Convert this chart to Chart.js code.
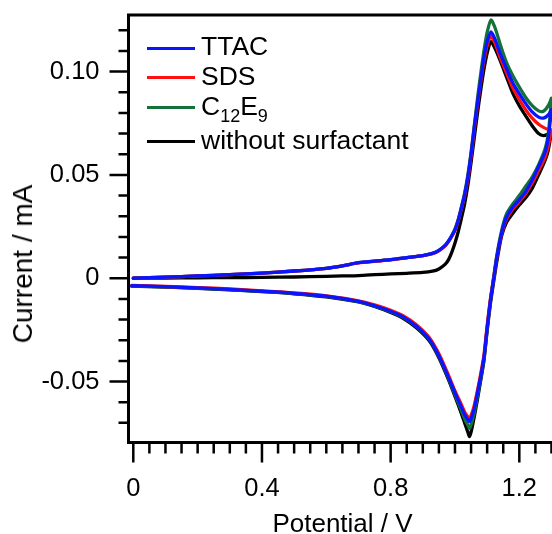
<!DOCTYPE html>
<html>
<head>
<meta charset="utf-8">
<script src="https://cdn.jsdelivr.net/npm/chart.js@4.4.1/dist/chart.umd.min.js"></script>
<style>
  html, body { margin: 0; padding: 0; background: #fff; }
  #wrap { position: relative; width: 552px; height: 534px; overflow: hidden; font-family: "Liberation Sans", Arial, sans-serif; color: #000; }
  #c { position: absolute; left: 0; top: 0; }
  .txt { position: absolute; line-height: 1; white-space: nowrap; }
  #xt { font-size: 26px; left: 342.5px; top: 523px; transform: translate(-50%, -50%); }
  #yt { font-size: 28px; left: 23.3px; top: 264px; transform: translate(-50%, -50%) rotate(-90deg); }
  .lg-line { position: absolute; height: 2.5px; left: 147px; width: 48px; }
  .lg-text { position: absolute; left: 201px; font-size: 26.5px; line-height: 1; white-space: nowrap; }
  .sub { font-size: 18px; position: relative; top: 7px; }
</style>
</head>
<body>
<div id="wrap">
  <canvas id="c" width="552" height="534"></canvas>
  <div class="txt" id="xt">Potential / V</div>
  <div class="txt" id="yt">Current / mA</div>
  <div id="legend"></div>
</div>
<script>
// ---------- data ----------
const seriesNames = ['TTAC', 'SDS', 'C<span class="sub">12</span>E<span class="sub">9</span>', 'without surfactant'];
const seriesColors = ['#0a14ff', '#ff1010', '#137239', '#000000'];

// forward (anodic) scan potentials, V
const fwdV = [0, 0.1, 0.2, 0.3, 0.4, 0.5, 0.6, 0.65, 0.7, 0.75, 0.8, 0.85, 0.9, 0.93, 0.95, 0.97, 0.98, 0.99, 1.00, 1.01, 1.02, 1.03, 1.04, 1.05, 1.06, 1.07, 1.08, 1.09, 1.10, 1.112, 1.125, 1.14, 1.16, 1.18, 1.20, 1.22, 1.24, 1.26, 1.275, 1.29, 1.30];
// forward scan currents, mA
const ttacFwd = [0, 0.0005, 0.0011, 0.0017, 0.0025, 0.0035, 0.0048, 0.0060, 0.0075, 0.0083, 0.0090, 0.0100, 0.0110, 0.0120, 0.0135, 0.0160, 0.0180, 0.0205, 0.0235, 0.0280, 0.0340, 0.0405, 0.0490, 0.0600, 0.0730, 0.0850, 0.0960, 0.1070, 0.1145, 0.1192, 0.1155, 0.1090, 0.1015, 0.0945, 0.0893, 0.0845, 0.0805, 0.0780, 0.0775, 0.0790, 0.0815];
const sdsFwd = [0, 0.0005, 0.0011, 0.0017, 0.0025, 0.0035, 0.0048, 0.0060, 0.0074, 0.0082, 0.0089, 0.0099, 0.0109, 0.0119, 0.0133, 0.0157, 0.0177, 0.0202, 0.0232, 0.0276, 0.0335, 0.0398, 0.0480, 0.0590, 0.0720, 0.0840, 0.0950, 0.1050, 0.1125, 0.1170, 0.1135, 0.1070, 0.0995, 0.0920, 0.0865, 0.0815, 0.0775, 0.0745, 0.0730, 0.0720, 0.0718];
const c12e9Fwd = [0, 0.0005, 0.0011, 0.0017, 0.0025, 0.0035, 0.0048, 0.0060, 0.0075, 0.0083, 0.0090, 0.0100, 0.0110, 0.0120, 0.0135, 0.0160, 0.0181, 0.0207, 0.0238, 0.0284, 0.0345, 0.0412, 0.0500, 0.0610, 0.0740, 0.0870, 0.0990, 0.1100, 0.1190, 0.1250, 0.1210, 0.1135, 0.1045, 0.0980, 0.0925, 0.0875, 0.0835, 0.0810, 0.0808, 0.0835, 0.0871];
const blankFwd = [0, 0.0001, 0.0002, 0.0003, 0.0004, 0.0006, 0.0009, 0.0011, 0.0013, 0.0017, 0.0021, 0.0024, 0.0028, 0.0034, 0.0045, 0.0068, 0.0090, 0.0125, 0.0170, 0.0225, 0.0290, 0.0360, 0.0450, 0.0560, 0.0680, 0.0800, 0.0910, 0.1010, 0.1090, 0.1145, 0.1110, 0.1055, 0.0975, 0.0895, 0.0835, 0.0785, 0.0738, 0.0700, 0.0690, 0.0698, 0.0710];

// reverse (cathodic) scan potentials, V
const revV = [1.30, 1.29, 1.28, 1.26, 1.24, 1.22, 1.20, 1.18, 1.16, 1.145, 1.13, 1.12, 1.11, 1.10, 1.09, 1.08, 1.07, 1.06, 1.05, 1.045, 1.04, 1.03, 1.02, 1.00, 0.98, 0.95, 0.92, 0.88, 0.84, 0.80, 0.75, 0.70, 0.60, 0.50, 0.40, 0.30, 0.20, 0.10, -0.005];
// reverse scan currents, mA
const ttacRev = [0.0815, 0.0680, 0.0610, 0.0540, 0.0475, 0.0420, 0.0380, 0.0345, 0.0295, 0.0220, 0.0100, -0.0005, -0.0110, -0.0240, -0.0385, -0.0475, -0.0555, -0.0630, -0.0680, -0.0694, -0.0685, -0.0660, -0.0625, -0.0555, -0.0480, -0.0375, -0.0295, -0.0232, -0.0188, -0.0160, -0.0133, -0.0112, -0.0087, -0.0073, -0.0063, -0.0054, -0.0047, -0.0041, -0.0036];
const sdsRev = [0.0718, 0.0640, 0.0585, 0.0520, 0.0460, 0.0410, 0.0370, 0.0335, 0.0285, 0.0215, 0.0098, -0.0002, -0.0103, -0.0230, -0.0372, -0.0462, -0.0542, -0.0615, -0.0665, -0.0678, -0.0670, -0.0647, -0.0612, -0.0545, -0.0470, -0.0366, -0.0287, -0.0225, -0.0182, -0.0155, -0.0129, -0.0109, -0.0085, -0.0071, -0.0061, -0.0052, -0.0045, -0.0040, -0.0035];
const c12e9Rev = [0.0871, 0.0700, 0.0625, 0.0550, 0.0490, 0.0445, 0.0400, 0.0360, 0.0310, 0.0230, 0.0110, 0.0002, -0.0110, -0.0245, -0.0392, -0.0485, -0.0570, -0.0650, -0.0710, -0.0726, -0.0712, -0.0680, -0.0640, -0.0563, -0.0485, -0.0378, -0.0297, -0.0234, -0.0190, -0.0162, -0.0134, -0.0113, -0.0088, -0.0074, -0.0064, -0.0055, -0.0048, -0.0042, -0.0037];
const blankRev = [0.0710, 0.0620, 0.0570, 0.0500, 0.0435, 0.0390, 0.0355, 0.0315, 0.0270, 0.0205, 0.0080, -0.0020, -0.0125, -0.0255, -0.0400, -0.0495, -0.0585, -0.0670, -0.0745, -0.0767, -0.0745, -0.0700, -0.0655, -0.0572, -0.0492, -0.0385, -0.0303, -0.0240, -0.0195, -0.0166, -0.0137, -0.0115, -0.0090, -0.0075, -0.0065, -0.0056, -0.0049, -0.0043, -0.0038];

// axis ticks
const xTicks = [0, 0.4, 0.8, 1.2];
const xTickLabels = ['0', '0.4', '0.8', '1.2'];
const yTicks = [-0.05, 0, 0.05, 0.10];
const yTickLabels = ['-0.05', '0', '0.05', '0.10'];
const xMinorStep = 0.05, xMinorCount = 26, xMajorEvery = 8;
const yMinorStep = 0.01, yMinorFrom = -7, yMinorTo = 12, yMajorEvery = 5;

// ---------- build ----------
function loop(fwd, rev) {
  return fwdV.map((v, i) => ({ x: v, y: fwd[i] }))
    .concat(revV.map((v, i) => ({ x: v, y: rev[i] })));
}
const fwdSets = [ttacFwd, sdsFwd, c12e9Fwd, blankFwd];
const revSets = [ttacRev, sdsRev, c12e9Rev, blankRev];

const datasets = seriesNames.map((n, k) => ({
  label: n.replace(/<[^>]+>/g, ''),
  data: loop(fwdSets[k], revSets[k]),
  showLine: true,
  borderColor: seriesColors[k],
  backgroundColor: seriesColors[k],
  borderWidth: 3.3,
  pointRadius: 0,
  tension: 0.25,
  fill: false,
  borderJoinStyle: 'round',
  borderCapStyle: 'round'
}));

const frame = {
  id: 'frame',
  afterDraw(chart) {
    const { ctx, chartArea: a, scales: { x, y } } = chart;
    ctx.save();
    ctx.strokeStyle = '#000';
    ctx.lineWidth = 3;
    ctx.beginPath();
    ctx.moveTo(a.right + 4, a.top);
    ctx.lineTo(a.left, a.top);
    ctx.lineTo(a.left, a.bottom);
    ctx.lineTo(a.right + 4, a.bottom);
    ctx.stroke();
    ctx.lineWidth = 2.5;
    ctx.beginPath();
    for (let i = 0; i <= xMinorCount; i++) {
      const px = x.getPixelForValue(i * xMinorStep);
      const len = (i % xMajorEvery === 0) ? 20 : 11;
      ctx.moveTo(px, a.bottom);
      ctx.lineTo(px, a.bottom + len);
    }
    for (let i = yMinorFrom; i <= yMinorTo; i++) {
      const py = y.getPixelForValue(i * yMinorStep);
      const len = (i % yMajorEvery === 0) ? 19 : 10;
      ctx.moveTo(a.left, py);
      ctx.lineTo(a.left - len, py);
    }
    ctx.stroke();
    ctx.restore();
  }
};

const tickFont = { family: '"Liberation Sans", Arial, sans-serif', size: 25.5 };
function noPad(s) { s.paddingTop = 0; s.paddingBottom = 0; s.paddingLeft = 0; s.paddingRight = 0; }

new Chart(document.getElementById('c'), {
  type: 'scatter',
  data: { datasets },
  options: {
    responsive: false,
    animation: false,
    devicePixelRatio: 1,
    layout: { padding: { top: 15, right: 0, left: 0, bottom: 0 } },
    plugins: { legend: { display: false }, tooltip: { enabled: false } },
    scales: {
      x: {
        type: 'linear', position: 'bottom',
        min: -0.0149, max: 1.3016,
        afterFit: s => { s.height = 91.5; noPad(s); },
        afterBuildTicks: s => { s.ticks = xTicks.map(v => ({ value: v })); },
        ticks: { callback: (v, i) => xTickLabels[i], font: tickFont, color: '#000', padding: 31, maxRotation: 0, autoSkip: false },
        grid: { display: false, drawTicks: false },
        border: { display: false },
        title: { display: false }
      },
      y: {
        type: 'linear', position: 'left',
        min: -0.0795, max: 0.1274,
        afterFit: s => { s.width = 128.5; noPad(s); },
        afterBuildTicks: s => { s.ticks = yTicks.map(v => ({ value: v })); },
        ticks: { callback: (v, i) => yTickLabels[i], font: tickFont, color: '#000', padding: 29, autoSkip: false },
        grid: { display: false, drawTicks: false },
        border: { display: false },
        title: { display: false }
      }
    }
  },
  plugins: [frame]
});

// ---------- legend (HTML, for the subscripts) ----------
const legendLineY = [48.3, 77.3, 107.3, 141.7];
const legendTextTop = [33.3, 62.8, 92.8, 127.2];
const lg = document.getElementById('legend');
seriesNames.forEach((n, k) => {
  const line = document.createElement('div');
  line.className = 'lg-line';
  line.style.top = (legendLineY[k] - 1.25) + 'px';
  line.style.background = seriesColors[k];
  lg.appendChild(line);
  const t = document.createElement('div');
  t.className = 'lg-text';
  t.style.top = legendTextTop[k] + 'px';
  t.innerHTML = n;
  lg.appendChild(t);
});
</script>
</body>
</html>
